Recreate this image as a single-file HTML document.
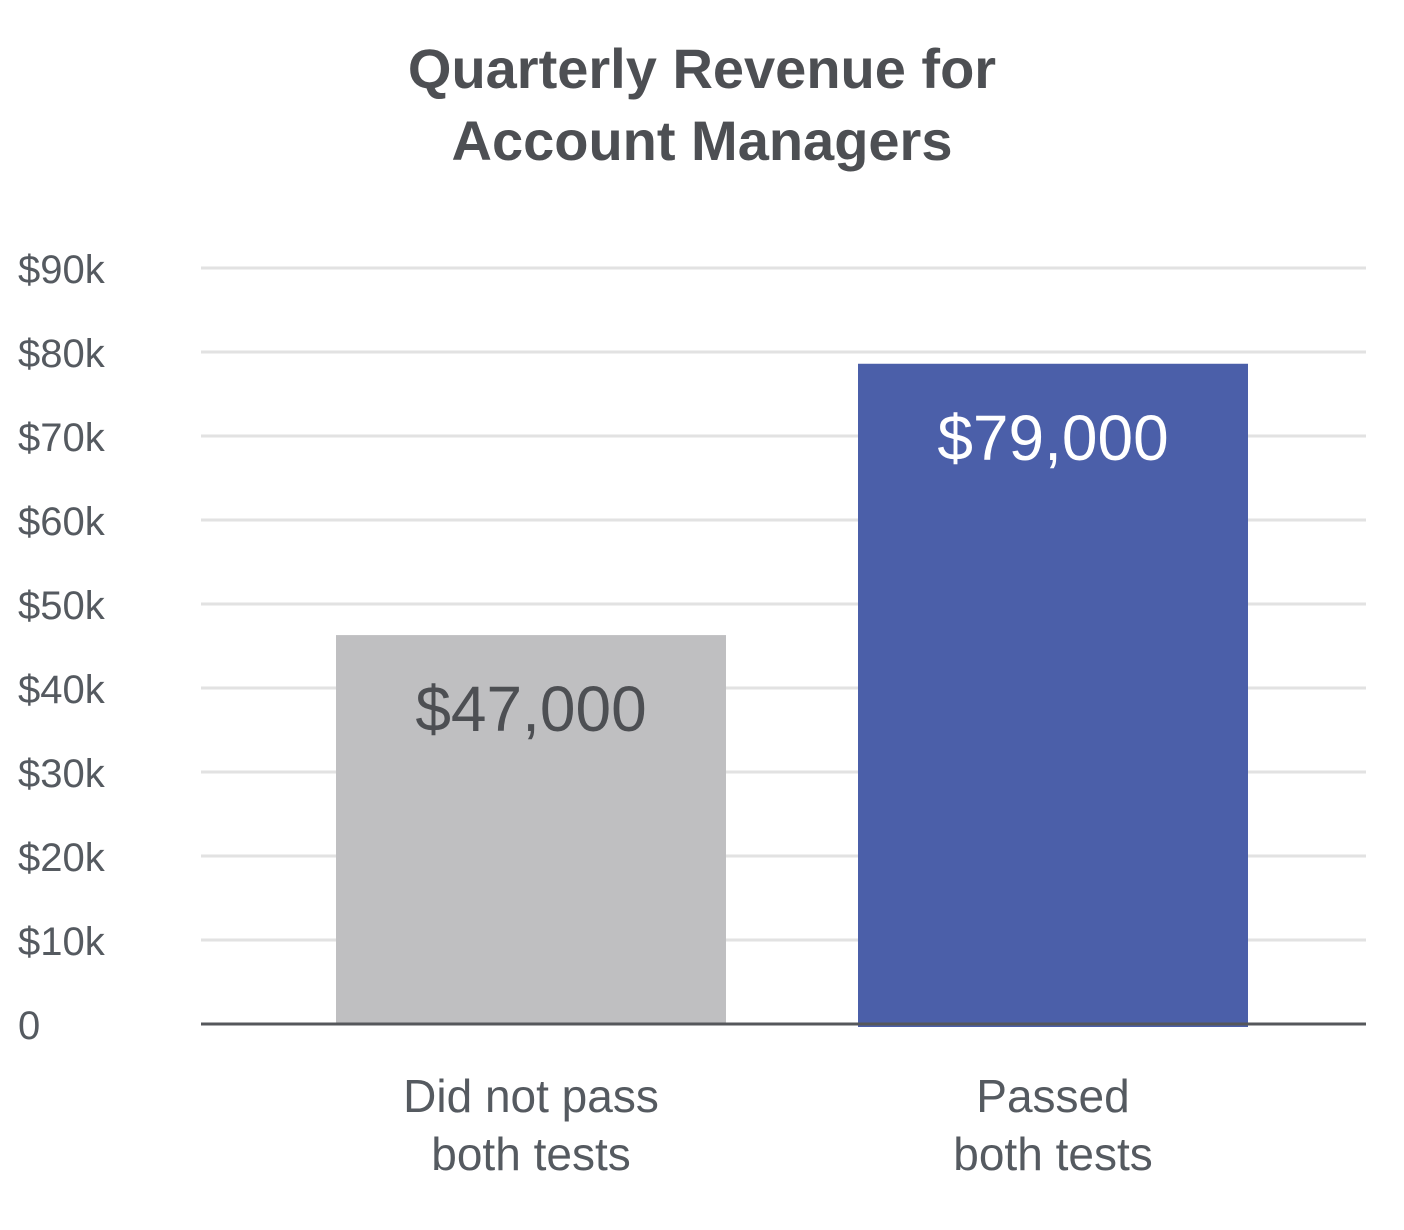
<!DOCTYPE html>
<html><head><meta charset="utf-8"><style>
html,body{margin:0;padding:0;background:#fff;}
svg{display:block;font-family:"Liberation Sans",sans-serif;}
</style></head><body>
<svg id="chart" width="1404" height="1230" viewBox="0 0 1404 1230">
<text x="702" y="88" text-anchor="middle" font-size="56" font-weight="bold" fill="#4d4f53">Quarterly Revenue for</text>
<text x="702" y="160" text-anchor="middle" font-size="56" font-weight="bold" fill="#4d4f53">Account Managers</text>
<g id="grid"></g><g id="bars"></g><g id="labels"></g>
</svg>
<script>
const categories = [["Did not pass","both tests"],["Passed","both tests"]];
const values = [46300, 78600];
const valueLabels = ["$47,000","$79,000"];
const tickValues = [0,10000,20000,30000,40000,50000,60000,70000,80000,90000];
const tickLabels = ["0","$10k","$20k","$30k","$40k","$50k","$60k","$70k","$80k","$90k"];
const NS="http://www.w3.org/2000/svg";
const x0=201,x1=1366,y0=1024,pxPer=84/10000;
function y(v){return y0-v*pxPer;}
const bandStart=270, band=522, barW=390;
function bx(i){return bandStart+i*band+(band-barW)/2;}
function mk(t,a,p){const e=document.createElementNS(NS,t);for(const k in a)e.setAttribute(k,a[k]);p.appendChild(e);return e;}
const grid=document.getElementById('grid'),bars=document.getElementById('bars'),labels=document.getElementById('labels');
tickValues.forEach((v,i)=>{
  if(v>0){const l=mk('line',{x1:x0,x2:x1,y1:y(v),y2:y(v),stroke:'#e2e2e2','stroke-width':3},grid);
  
  }
  const t=mk('text',{x:18,y:y(v)+15,'font-size':40,fill:'#555a60'},grid);
  t.textContent=tickLabels[i];
  
  
});
const colors=['#bfbfc1','#4b5fa9'],txtCol=['#4d4f53','#ffffff'];
values.forEach((v,i)=>{
  const r=mk('rect',{x:bx(i),y:y(v),width:barW,height:y0-y(v)+(i==1?3:0),fill:colors[i]},bars);
  
  
  const t=mk('text',{x:bx(i)+barW/2,y:y(v)+96,'text-anchor':'middle','font-size':64,fill:txtCol[i]},labels);
  t.textContent=valueLabels[i];
  
  
  categories[i].forEach((s,j)=>{
    const c=mk('text',{x:bx(i)+barW/2,y:1112+j*58,'text-anchor':'middle','font-size':46,fill:'#555a60'},labels);
    c.textContent=s;
    
    
  });
});
const ax=mk('line',{x1:x0,x2:x1,y1:y0,y2:y0,stroke:'#55575b','stroke-width':3},labels);


</script>
</body></html>
